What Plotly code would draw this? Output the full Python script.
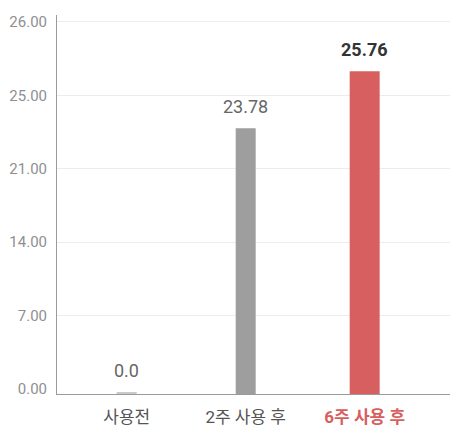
import numpy as np
import plotly.graph_objects as go

categories = ["사용전", "2주 사용 후", "6주 사용 후"]
values = [0.0, 23.78, 25.76]
value_labels = ["0.0", "23.78", "25.76"]
y_tick_labels = ["0.00", "7.00", "14.00", "21.00", "25.00", "26.00"]

# the source chart uses a stretched display scale: the baseline sits at 14.55
Y_LO, Y_HI = 14.55, 27.71
STUB = 0.07  # tiny stub so a zero value still shows a sliver

heights = [max(v - Y_LO, STUB) for v in values]
tops = [Y_LO + h for h in heights]
tick_pos = np.linspace(14.72, 27.47, len(y_tick_labels))

bar_colors = ["#c9c9c9", "#9e9e9e", "#d75f5f"]
bar_widths = [0.168, 0.168, 0.252]
FONT = "Roboto, 'Noto Sans CJK KR', sans-serif"

fig = go.Figure(go.Bar(
    x=categories,
    y=heights,
    base=Y_LO,
    width=bar_widths,
    marker=dict(color=bar_colors, line=dict(width=0)),
    hoverinfo="skip",
))

label_colors = ["#666666", "#666666", "#333333"]
for i, (cat, top, txt) in enumerate(zip(categories, tops, value_labels)):
    fig.add_annotation(
        x=cat, y=top, text=("<b>%s</b>" % txt) if i == 2 else txt,
        showarrow=False, yanchor="bottom", yshift=9,
        font=dict(family=FONT, size=18, color=label_colors[i]),
    )

tick_text = categories[:2] + ["<b><span style='color:#d75f5f'>%s</span></b>" % categories[2]]

# page body adds an 8px margin, so the figure is a bit smaller than the window
fig.update_layout(
    width=450, height=420,
    margin=dict(l=49, r=1, t=7, b=34),
    plot_bgcolor="white", paper_bgcolor="white",
    showlegend=False,
    font=dict(family=FONT),
    xaxis=dict(
        type="category", automargin=False,
        range=[-0.586, 2.776],
        tickmode="array", tickvals=categories, ticktext=tick_text,
        showline=True, linecolor="#9a9a9a", linewidth=1,
        ticks="", showgrid=False, zeroline=False,
        tickfont=dict(size=17, color="#555555"),
        ticklabelstandoff=8,
    ),
    yaxis=dict(
        automargin=False,
        range=[Y_LO, Y_HI],
        tickmode="array", tickvals=list(tick_pos), ticktext=y_tick_labels,
        showline=True, linecolor="#9a9a9a", linewidth=1,
        ticks="", showgrid=False, zeroline=False,
        tickfont=dict(size=15, color="#8f8f8f"),
        ticklabelstandoff=6,
        minor=dict(tickmode="array", tickvals=list(tick_pos[1:]),
                   showgrid=True, gridcolor="#ececec", gridwidth=1, ticks=""),
    ),
)

fig.write_html("out.html")
